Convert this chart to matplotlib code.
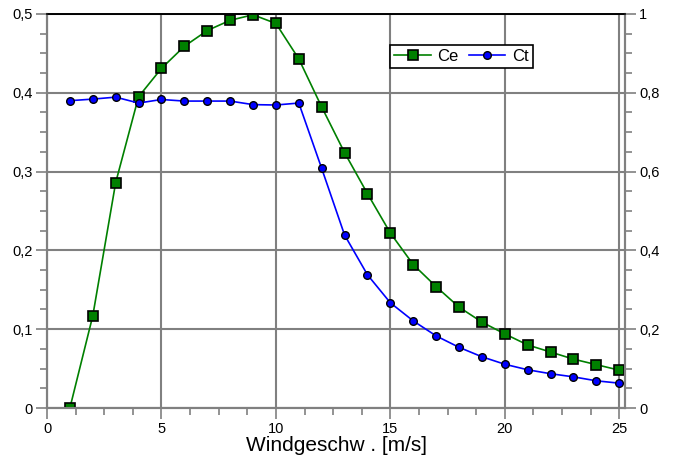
#!/usr/bin/env python3
"""Ce / Ct curve vs wind speed, twin y axes (Ce left, Ct right)."""

import matplotlib
matplotlib.use("Agg")
import matplotlib.pyplot as plt
from matplotlib.ticker import MultipleLocator, FuncFormatter

plt.rcParams["font.family"] = ["Liberation Sans", "DejaVu Sans"]

# wind speed [m/s]
wind = list(range(1, 26))
# power coefficient (left axis)
ce = [0.000, 0.117, 0.286, 0.395, 0.431, 0.459, 0.479, 0.492, 0.499, 0.488,
      0.443, 0.382, 0.324, 0.272, 0.222, 0.182, 0.154, 0.128, 0.109, 0.094,
      0.080, 0.071, 0.062, 0.055, 0.048]
# thrust coefficient (right axis)
ct = [0.780, 0.784, 0.789, 0.774, 0.783, 0.779, 0.779, 0.779, 0.770, 0.769,
      0.774, 0.608, 0.439, 0.338, 0.267, 0.221, 0.183, 0.154, 0.130, 0.111,
      0.097, 0.087, 0.079, 0.069, 0.063]

GRID = "#808080"


def comma(v, _pos):
    s = f"{v:.1f}".replace(".", ",")
    return "0" if abs(v) < 1e-9 else ("1" if abs(v - 1) < 1e-9 else s)


fig = plt.figure(figsize=(6.75, 4.61), dpi=100)
ax = fig.add_axes([47 / 675, 1 - 408 / 461, (625 - 47) / 675, (408 - 14) / 461])
ax2 = ax.twinx()

ax.set_xlim(0, 25.25)
ax.set_ylim(0, 0.5)
ax2.set_ylim(0, 1)

ax.xaxis.set_major_locator(MultipleLocator(5))
ax.xaxis.set_minor_locator(MultipleLocator(1.25))
ax.yaxis.set_major_locator(MultipleLocator(0.1))
ax.yaxis.set_minor_locator(MultipleLocator(0.025))
ax2.yaxis.set_major_locator(MultipleLocator(0.2))
ax2.yaxis.set_minor_locator(MultipleLocator(0.05))
ax.yaxis.set_major_formatter(FuncFormatter(comma))
ax2.yaxis.set_major_formatter(FuncFormatter(comma))

ax.grid(True, which="major", color=GRID, lw=1.5)
ax.set_axisbelow(True)

for a in (ax, ax2):
    for side in ("left", "right", "bottom"):
        a.spines[side].set_color(GRID)
        a.spines[side].set_linewidth(1.5)
    a.spines["top"].set_color("black")
    a.spines["top"].set_linewidth(1.2)
    a.tick_params(which="both", color=GRID, width=1.2, labelsize=10.5, pad=2)
    a.tick_params(which="major", length=8)
    a.tick_params(which="minor", length=5)

ax.plot(wind, ce, color="#008000", lw=1.2, marker="s", ms=7,
        mfc="#008000", mec="black", mew=1.2, label="Ce", zorder=3)
ax2.plot(wind, ct, color="#0000ff", lw=1.2, marker="o", ms=5.5,
         mfc="#0000ff", mec="black", mew=1.0, label="Ct", zorder=3)

h1, l1 = ax.get_legend_handles_labels()
h2, l2 = ax2.get_legend_handles_labels()
leg = ax.legend(h1 + h2, l1 + l2, ncol=2, loc="upper left",
                bbox_to_anchor=((390 - 47) / 578, 1 - (45 - 14) / 394),
                fancybox=False, framealpha=1, edgecolor="black",
                fontsize=12, handlelength=2.2, handletextpad=0.4,
                columnspacing=0.6, borderpad=0.25, borderaxespad=0)
leg.get_frame().set_linewidth(1.2)
leg.set_zorder(10)

ax.set_xlabel("Windgeschw . [m/s]", fontsize=15, labelpad=0)

fig.savefig("out.png", dpi=100)
